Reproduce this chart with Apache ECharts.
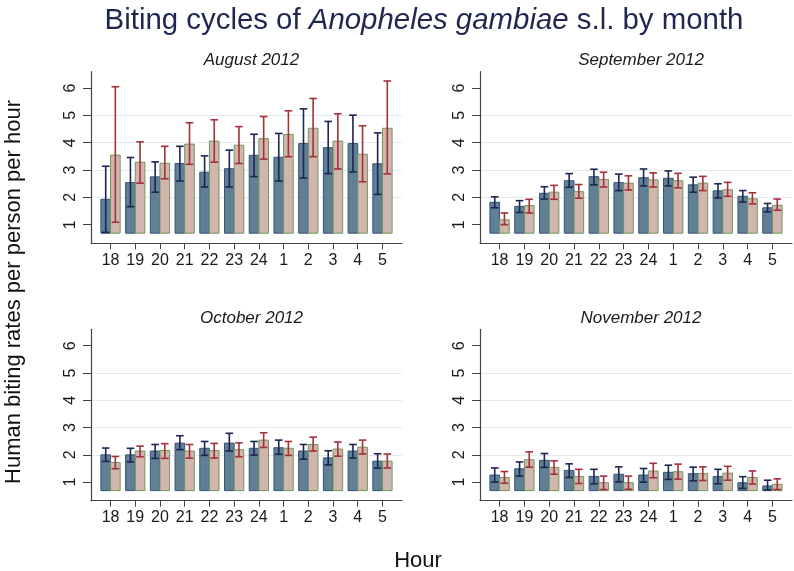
<!DOCTYPE html>
<html><head><meta charset="utf-8">
<script src="https://cdn.jsdelivr.net/npm/echarts@6/dist/echarts.min.js"></script>
<style>html,body{margin:0;padding:0;background:#fff}#c{width:794px;height:571px}</style>
</head><body><div id="c"></div>
<script>
const hours = ['18','19','20','21','22','23','24','1','2','3','4','5'];
const months = ['August 2012','September 2012','October 2012','November 2012'];
const yTicks = [1,2,3,4,5,6];
const barBase = 0.69;

// August
const augBlueMean = [1.93,2.54,2.75,3.24,2.92,3.05,3.54,3.47,3.97,3.82,3.97,3.23];
const augBlueLow  = [0.72,1.66,2.19,2.60,2.38,2.38,2.76,2.60,2.71,2.87,2.93,2.11];
const augBlueHigh = [3.14,3.46,3.30,3.87,3.52,3.73,4.31,4.34,5.24,4.78,5.01,4.36];
const augPinkMean = [3.55,3.29,3.25,3.95,4.06,3.91,4.15,4.30,4.53,4.06,3.58,4.53];
const augPinkLow  = [1.09,2.52,2.68,3.21,3.29,3.24,3.40,3.49,3.49,3.04,2.57,2.86];
const augPinkHigh = [6.05,4.03,3.87,4.73,4.84,4.59,4.96,5.17,5.62,5.06,4.62,6.26];
// September
const sepBlueMean = [1.82,1.67,2.15,2.61,2.76,2.54,2.72,2.70,2.46,2.24,2.04,1.62];
const sepBlueLow  = [1.62,1.45,1.94,2.37,2.46,2.25,2.42,2.42,2.19,1.98,1.83,1.47];
const sepBlueHigh = [2.02,1.88,2.39,2.87,3.03,2.85,3.04,2.97,2.74,2.50,2.25,1.78];
const sepPinkMean = [1.18,1.70,2.19,2.21,2.66,2.52,2.64,2.61,2.52,2.28,1.95,1.71];
const sepPinkLow  = [1.00,1.43,1.93,1.97,2.38,2.27,2.38,2.35,2.25,2.04,1.76,1.53];
const sepPinkHigh = [1.43,1.93,2.44,2.47,2.92,2.79,2.90,2.88,2.77,2.55,2.17,1.94];
// October
const octBlueMean = [2.00,2.00,2.14,2.43,2.24,2.43,2.24,2.26,2.14,1.89,2.14,1.77];
const octBlueLow  = [1.76,1.74,1.87,2.19,1.98,2.14,1.99,2.02,1.84,1.63,1.88,1.51];
const octBlueHigh = [2.25,2.24,2.38,2.70,2.49,2.79,2.49,2.54,2.38,2.15,2.38,2.04];
const octPinkMean = [1.72,2.14,2.16,2.14,2.16,2.19,2.54,2.24,2.38,2.21,2.28,1.77];
const octPinkLow  = [1.49,1.93,1.87,1.88,1.88,1.93,2.27,1.98,2.14,1.95,2.03,1.52];
const octPinkHigh = [1.94,2.32,2.41,2.38,2.42,2.44,2.81,2.49,2.65,2.47,2.54,2.03];
// November
const novBlueMean = [1.26,1.49,1.80,1.43,1.21,1.29,1.26,1.36,1.31,1.21,0.98,0.86];
const novBlueLow  = [1.00,1.22,1.54,1.17,0.94,1.01,1.00,1.10,1.05,0.94,0.77,0.71];
const novBlueHigh = [1.52,1.74,2.05,1.67,1.47,1.56,1.50,1.62,1.55,1.47,1.20,1.07];
const novPinkMean = [1.17,1.82,1.54,1.21,0.98,0.98,1.41,1.38,1.32,1.33,1.17,0.92];
const novPinkLow  = [0.96,1.55,1.29,0.95,0.73,0.74,1.16,1.11,1.06,1.07,0.93,0.73];
const novPinkHigh = [1.39,2.11,1.78,1.47,1.22,1.22,1.69,1.66,1.56,1.58,1.41,1.12];

const panels = [
  {blue:[augBlueMean,augBlueLow,augBlueHigh], pink:[augPinkMean,augPinkLow,augPinkHigh]},
  {blue:[sepBlueMean,sepBlueLow,sepBlueHigh], pink:[sepPinkMean,sepPinkLow,sepPinkHigh]},
  {blue:[octBlueMean,octBlueLow,octBlueHigh], pink:[octPinkMean,octPinkLow,octPinkHigh]},
  {blue:[novBlueMean,novBlueLow,novBlueHigh], pink:[novPinkMean,novPinkLow,novPinkHigh]}
];

const FONT = '"Liberation Sans", Arial, sans-serif';
const grids = [
  {left:91, top:71.7, width:311, height:171.6},
  {left:480, top:71.7, width:312, height:171.6},
  {left:91, top:329.3, width:311, height:171.4},
  {left:480, top:329.3, width:312, height:171.4}
];

const styles = {
  blue: {fill:'rgba(84,116,140,0.92)', border:'#34557a', err:'#1d2552'},
  pink: {fill:'rgba(205,178,170,0.95)', border:'#6f985c', err:'#a3303b'}
};

function makeRender(side, st) {
  return function (params, api) {
    const x = api.value(0), v = api.value(1), lo = api.value(2), hi = api.value(3);
    const band = api.size([1, 0])[0];
    const w = band * 0.39;
    const pB = api.coord([x, barBase]);
    const pT = api.coord([x, v]);
    const x0 = side < 0 ? pB[0] - w : pB[0];
    const cx = x0 + w / 2;
    const yLo = api.coord([x, lo])[1];
    const yHi = api.coord([x, hi])[1];
    const cap = 3.8;
    const ls = {stroke: st.err, lineWidth: 1.6};
    return {
      type: 'group',
      children: [
        {type:'rect', shape:{x:x0, y:pT[1], width:w, height:pB[1]-pT[1]},
         style:{fill:st.fill, stroke:st.border, lineWidth:1}},
        {type:'line', shape:{x1:cx, y1:yLo, x2:cx, y2:yHi}, style:ls},
        {type:'line', shape:{x1:cx-cap, y1:yLo, x2:cx+cap, y2:yLo}, style:ls},
        {type:'line', shape:{x1:cx-cap, y1:yHi, x2:cx+cap, y2:yHi}, style:ls}
      ]
    };
  };
}

const idx = hours.map((h, i) => i);
const xAxes = [], yAxes = [], series = [], titles = [];

titles.push({
  left: 419, top: 1, textAlign: 'center',
  text: '{n|Biting cycles of }{i|Anopheles gambiae}{n| s.l. by month}',
  textStyle: {
    fontWeight: 'normal',
    rich: {
      n: {fontFamily: FONT, fontSize: 29.4, color: '#1f2750', fontWeight: 'normal'},
      i: {fontFamily: FONT, fontSize: 29.4, color: '#1f2750', fontStyle: 'italic', fontWeight: 'normal'}
    }
  }
});

grids.forEach((g, k) => {
  titles.push({
    left: g.left + g.width / 2, top: g.top - 25, textAlign: 'center',
    text: months[k],
    textStyle: {fontFamily: FONT, fontSize: 17, fontStyle: 'italic', fontWeight: 'normal', color: '#1a1a1a'}
  });
  xAxes.push({
    type: 'value', gridIndex: k, min: -0.79, max: 11.79,
    axisLine: {show: true, onZero: false, lineStyle: {color: '#444', width: 1.2}},
    axisTick: {show: true, customValues: idx, length: 6, lineStyle: {color: '#444'}},
    axisLabel: {customValues: idx, formatter: v => hours[Math.round(v)], margin: 9,
      fontFamily: FONT, fontSize: 16, color: '#1a1a1a'},
    splitLine: {show: false}
  });
  yAxes.push({
    type: 'value', gridIndex: k, min: 0.32, max: 6.6, splitNumber: 6,
    axisLine: {show: true, onZero: false, lineStyle: {color: '#444', width: 1.2}},
    axisTick: {show: true, customValues: yTicks, length: 8, lineStyle: {color: '#444'}},
    axisLabel: {customValues: yTicks, rotate: 90, margin: 12,
      fontFamily: FONT, fontSize: 16, color: '#1a1a1a'},
    splitLine: {show: true, showMinLine: false, showMaxLine: false,
      lineStyle: {color: '#e3ebf0', width: 1.2}}
  });
  const p = panels[k];
  [['blue', -1], ['pink', 1]].forEach(([key, side]) => {
    const arr = p[key];
    series.push({
      type: 'custom', xAxisIndex: k, yAxisIndex: k,
      renderItem: makeRender(side, styles[key]),
      data: arr[0].map((m, i) => [i, m, arr[1][i], arr[2][i]]),
      encode: {x: 0, y: [1, 2, 3]},
      silent: true, clip: false, animation: false
    });
  });
});

const chart = echarts.init(document.getElementById('c'), null, {renderer: 'canvas'});
chart.setOption({
  animation: false,
  backgroundColor: '#ffffff',
  title: titles,
  grid: grids,
  xAxis: xAxes,
  yAxis: yAxes,
  series: series,
  graphic: [
    {type: 'text', x: 14, y: 292, rotation: Math.PI / 2,
      style: {text: 'Human biting rates per person per hour', fontFamily: FONT, fontSize: 22,
        fill: '#111', align: 'center', verticalAlign: 'middle'}},
    {type: 'text', x: 418, y: 561, 
      style: {text: 'Hour', fontFamily: FONT, fontSize: 22, fill: '#111', align: 'center', verticalAlign: 'middle'}}
  ]
});
</script></body></html>
